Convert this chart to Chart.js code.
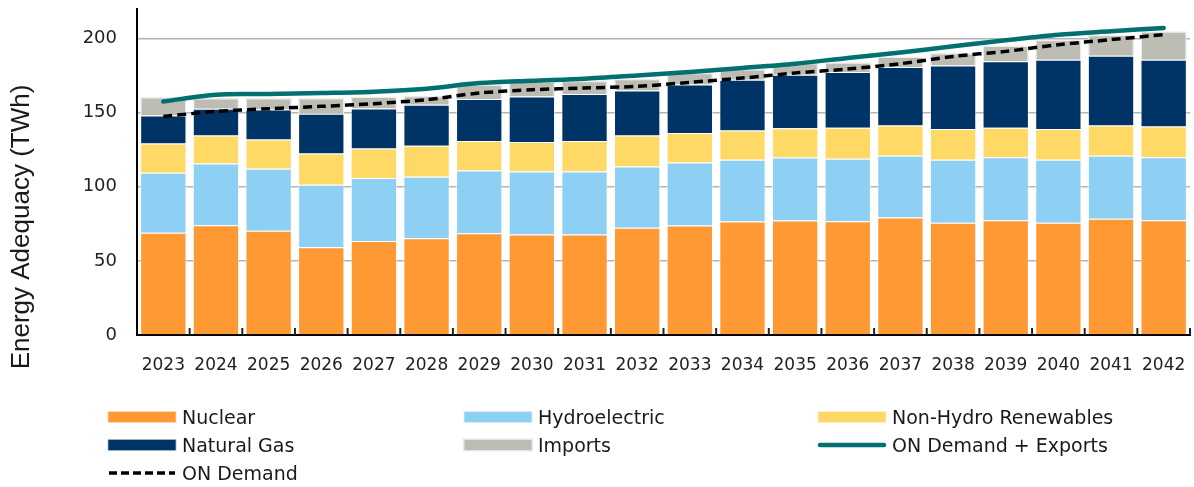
<!DOCTYPE html>
<html>
<head>
<meta charset="utf-8">
<script src="https://cdn.jsdelivr.net/npm/chart.js@4"></script>
<style>
html,body{margin:0;padding:0;background:#fff;}
#wrap{position:relative;width:1194px;height:487px;overflow:hidden;}
#c{position:absolute;left:0;top:0;}
.leg{position:absolute;font-family:"DejaVu Sans",Verdana,sans-serif;font-size:19px;color:#1a1a1a;display:flex;align-items:center;white-space:nowrap;height:24px;transform:translateY(-12px);}
.leg svg{margin-right:5px;display:block;}
</style>
</head>
<body>
<div id="wrap">
<canvas id="c" width="1194" height="487"></canvas>
</div>
<script>
// ---- data ----
const years = ['2023','2024','2025','2026','2027','2028','2029','2030','2031','2032','2033','2034','2035','2036','2037','2038','2039','2040','2041','2042'];
const nuclear = [69, 74, 70.3, 59.2, 63.5, 65.3, 68.7, 67.8, 67.8, 72.3, 73.9, 76.6, 77.2, 76.8, 79.3, 75.7, 77.5, 75.7, 78.4, 77.5];
const hydro = [40.5, 41.7, 41.9, 42.2, 42.5, 41.5, 42.3, 42.6, 42.6, 41.4, 42.5, 41.6, 42.6, 42.1, 41.6, 42.5, 42.5, 42.5, 42.6, 42.5];
const nonHydro = [19.8, 19, 19.8, 21.1, 19.9, 20.9, 20, 19.8, 20.6, 21, 19.9, 19.8, 19.8, 21, 20.5, 20.8, 19.9, 20.8, 20.4, 20.7];
const naturalGas = [18.9, 18, 20.2, 26.8, 27, 27.7, 28.3, 30.8, 31.6, 30.3, 32.7, 34.3, 36.1, 37.6, 39.5, 42.8, 44.8, 46.8, 47.1, 45.1];
const imports = [12.4, 7.3, 7.8, 10.7, 8.1, 6, 9.7, 10, 9, 8, 8, 7.2, 7.8, 6.5, 7.1, 8.5, 10.6, 13.5, 14.2, 19.2];
const demandExports = [157.6, 162.2, 162.6, 163.3, 164.2, 166.2, 170, 171.6, 173, 175.2, 177.5, 180.2, 183.1, 187, 190.7, 194.8, 198.9, 202.7, 205, 207.2];
const demand = [147.5, 150.9, 152.7, 154.3, 156.1, 158.8, 163.3, 165.5, 166.7, 167.8, 170.5, 173.4, 176.8, 179.5, 183.1, 188, 191.4, 195.9, 199.3, 202.7];
const yTicks = [0, 50, 100, 150, 200];
const yTitle = 'Energy Adequacy (TWh)';

// ---- styles ----
const xTickFont = {family: '"DejaVu Sans", Verdana, sans-serif', size: 17, lineHeight: 1};
const yTickFont = {family: '"DejaVu Sans", Verdana, sans-serif', size: 18, lineHeight: 0.9};
const colors = {
  nuclear: '#FF9933', hydro: '#8DD0F3', nonHydro: '#FFD966', gas: '#003366', imports: '#BCBCB2',
  demandExports: '#007070', demand: '#000000'
};

function barDs(label, data, color) {
  return {type: 'bar', label, data, backgroundColor: color, borderColor: 'rgba(255,255,255,0.55)',
    borderWidth: 1, stack: 'supply', order: 2, categoryPercentage: 1, barPercentage: 0.88};
}

const datasets = [
  barDs('Nuclear', nuclear, colors.nuclear),
  barDs('Hydroelectric', hydro, colors.hydro),
  barDs('Non-Hydro Renewables', nonHydro, colors.nonHydro),
  barDs('Natural Gas', naturalGas, colors.gas),
  Object.assign(barDs('Imports', imports, colors.imports), {borderColor: '#ececec', borderWidth: 1.5}),
  {type: 'line', label: 'ON Demand + Exports', data: demandExports, borderColor: colors.demandExports,
    borderWidth: 4.5, pointRadius: 0, tension: 0.3, fill: false, stack: 'l1', order: 0, borderCapStyle: 'round'},
  {type: 'line', label: 'ON Demand', data: demand, borderColor: colors.demand, borderDash: [9, 5],
    borderWidth: 3.5, pointRadius: 0, tension: 0.3, fill: false, stack: 'l2', order: 0}
];

const xTickPlugin = {
  id: 'xTickMarks',
  afterDatasetsDraw(chart) {
    const xs = chart.scales.x, a = chart.chartArea, c = chart.ctx, n = years.length;
    c.save();
    c.strokeStyle = '#222';
    c.lineWidth = 2;
    for (let i = 1; i <= n; i++) {
      const x = i === n ? a.right : (xs.getPixelForValue(i - 1) + xs.getPixelForValue(i)) / 2;
      c.beginPath(); c.moveTo(x, a.bottom); c.lineTo(x, a.bottom - 7); c.stroke();
    }
    c.restore();
  }
};

const yTitlePlugin = {
  id: 'yTitle',
  afterDraw(chart) {
    const c = chart.ctx;
    c.save();
    c.translate(22, 227);
    c.rotate(-Math.PI / 2);
    c.font = '26px "Liberation Sans", Arial, sans-serif';
    c.fillStyle = '#1a1a1a';
    c.textAlign = 'center';
    c.textBaseline = 'middle';
    c.fillText(yTitle, 0, 0);
    c.restore();
  }
};

new Chart(document.getElementById('c'), {
  data: {labels: years, datasets},
  options: {
    responsive: false,
    animation: false,
    devicePixelRatio: 1,
    layout: {padding: {top: 9, right: 4, left: 0, bottom: 0}},
    plugins: {legend: {display: false}, tooltip: {enabled: false}},
    scales: {
      x: {
        stacked: true,
        grid: {display: true, drawOnChartArea: false, drawTicks: true, tickLength: 22, tickColor: 'rgba(0,0,0,0)'},
        border: {color: '#000', width: 2},
        ticks: {font: xTickFont, color: '#222', padding: 0, maxRotation: 0, autoSkip: false},
        afterFit(s) { s.height = 152; }
      },
      y: {
        stacked: true,
        min: 0, max: 220,
        afterBuildTicks(s) { s.ticks = yTicks.map(v => ({value: v})); },
        grid: {color: '#b4b4b4', lineWidth: 1.5, drawTicks: true, tickLength: 20, tickColor: 'rgba(0,0,0,0)'},
        border: {color: '#000', width: 2},
        ticks: {font: yTickFont, color: '#222', padding: 0},
        afterFit(s) { s.width = 137; }
      }
    }
  },
  plugins: [xTickPlugin, yTitlePlugin]
});

// ---- HTML legend ----
const legendOrder = [0, 1, 2, 3, 4, 5, 6];
const legendPos = [[107, 417], [463, 417], [817, 417], [107, 445], [463, 445], [817, 445], [107, 473]];
const wrap = document.getElementById('wrap');
legendOrder.forEach((di, k) => {
  const ds = datasets[di];
  const el = document.createElement('div');
  el.className = 'leg';
  el.style.left = legendPos[k][0] + 'px';
  el.style.top = legendPos[k][1] + 'px';
  let sw;
  if (ds.type === 'bar') {
    sw = `<svg width="70" height="14"><rect x="0.75" y="1.25" width="68.5" height="11.5" fill="${ds.backgroundColor}" stroke="${ds.label==='Imports'?'#e6e6e6':'rgba(255,255,255,0.5)'}" stroke-width="1.5"/></svg>`;
  } else if (ds.borderDash) {
    sw = `<svg width="70" height="14"><line x1="2" y1="7" x2="68" y2="7" stroke="${ds.borderColor}" stroke-width="3.5" stroke-dasharray="8 4"/></svg>`;
  } else {
    sw = `<svg width="70" height="14"><line x1="3" y1="7" x2="67" y2="7" stroke="${ds.borderColor}" stroke-width="4.5" stroke-linecap="round"/></svg>`;
  }
  el.innerHTML = sw + '<span>' + ds.label + '</span>';
  wrap.appendChild(el);
});
</script>
</body>
</html>
